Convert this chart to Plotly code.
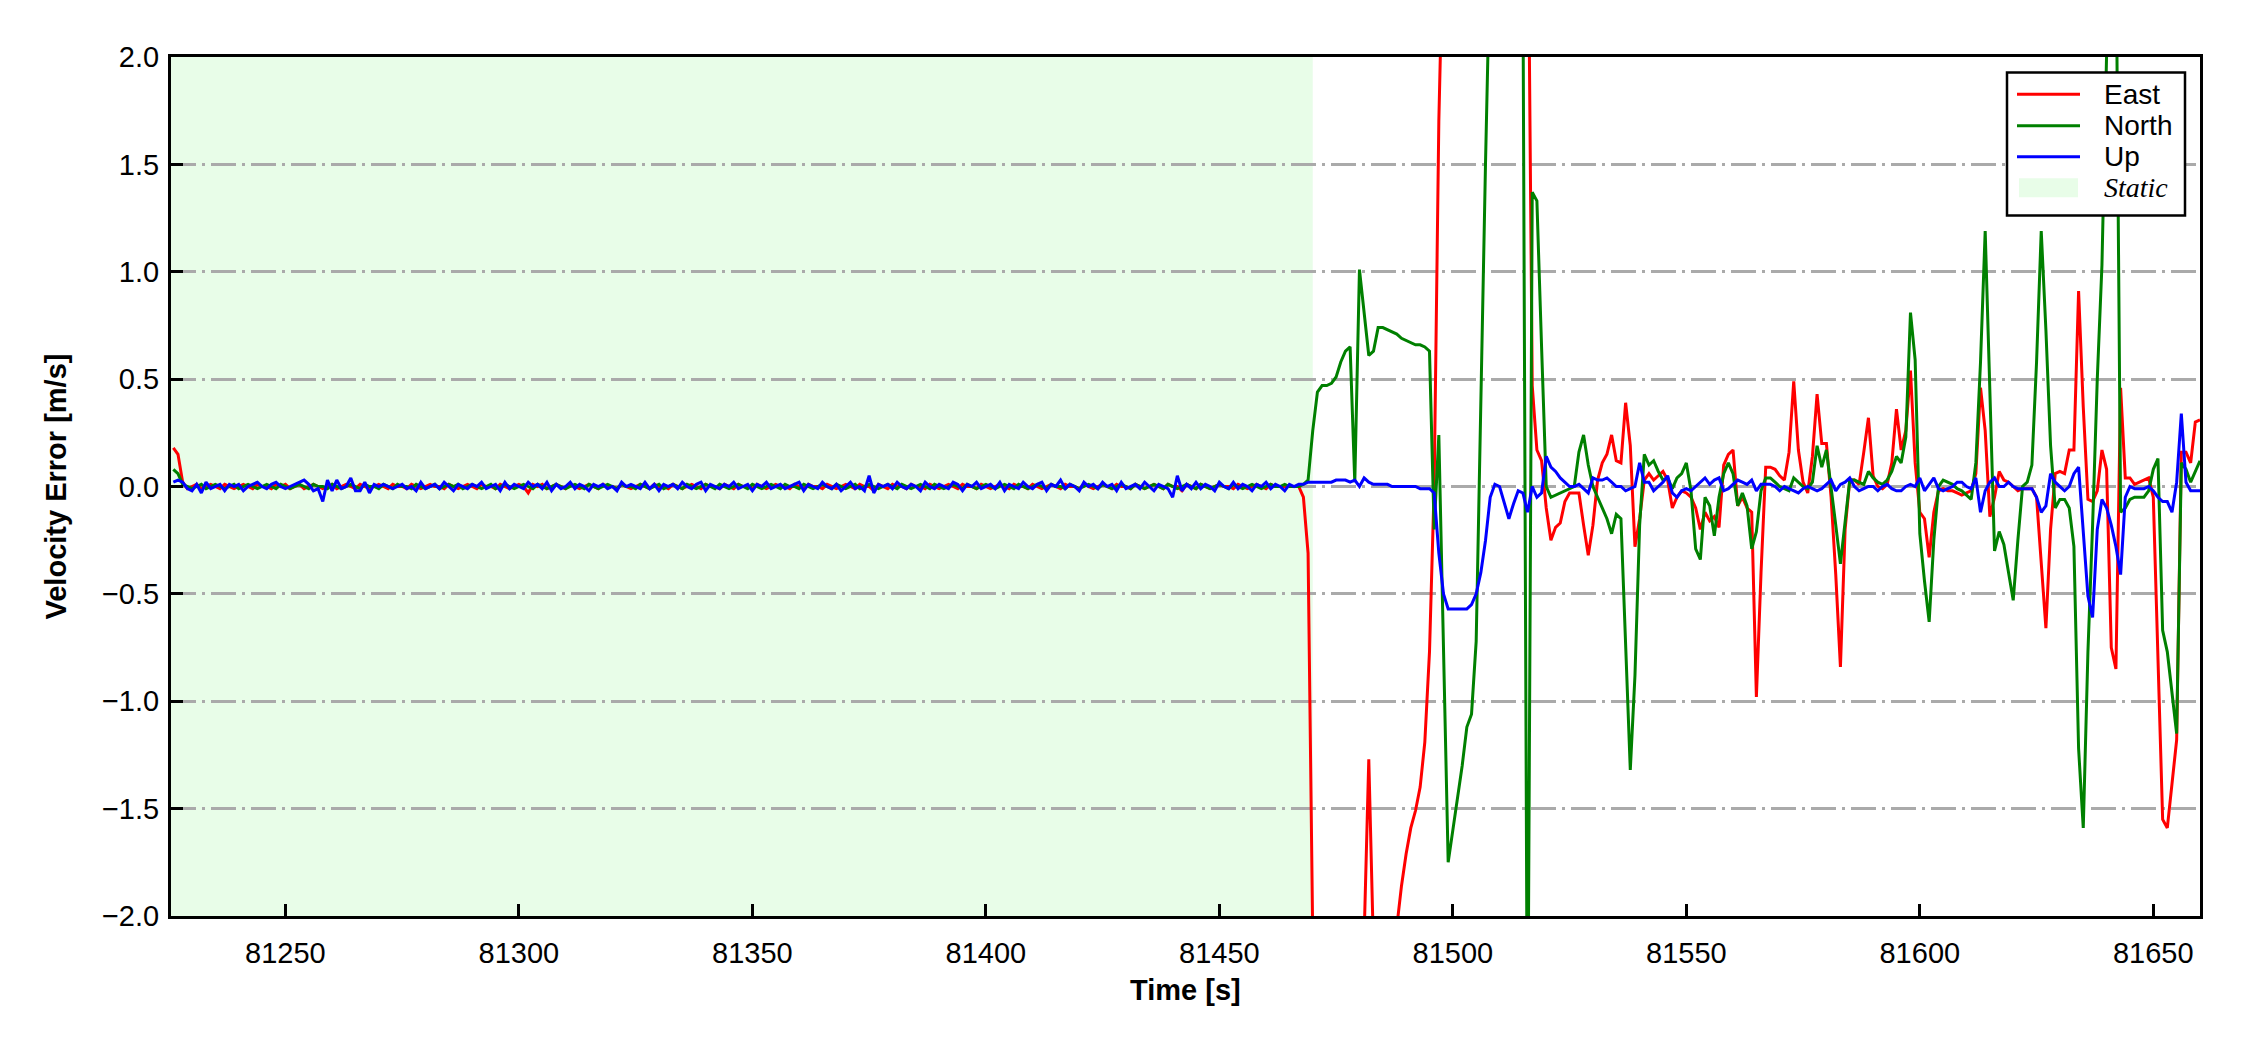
import plotly.graph_objects as go

# ---------------- data ----------------
TIME_START = 81226
TIME_END = 81660
TIME = list(range(TIME_START, TIME_END + 1))

X_RANGE = [81225.5, 81660]
Y_RANGE = [-2.0, 2.0]
STATIC_SPAN = [81225.5, 81470]

X_TICKS = [81250, 81300, 81350, 81400, 81450, 81500, 81550, 81600, 81650]
X_TICK_LABELS = ["81250", "81300", "81350", "81400", "81450", "81500", "81550", "81600", "81650"]
Y_TICKS = [-2.0, -1.5, -1.0, -0.5, 0.0, 0.5, 1.0, 1.5, 2.0]
Y_TICK_LABELS = ["\u22122.0", "\u22121.5", "\u22121.0", "\u22120.5", "0.0", "0.5", "1.0", "1.5", "2.0"]

EAST = [
    # static period 81226-81465
    0.18, 0.15, 0.02, -0.01, 0.0, 0.01, -0.01, 0.0, 0.01, 0.0, -0.01, 0.01, 0.0, -0.01, 0.0, 0.01, 0.0, -0.01, 0.01, 0.0,
    0.0, -0.01, 0.01, 0.0, 0.01, -0.01, 0.0, 0.01, -0.01, 0.0, 0.01, 0.0, -0.01, 0.0, 0.01, -0.01, 0.0, 0.01, 0.0, -0.01,
    0.01, 0.0, -0.01, 0.0, 0.01, 0.0, -0.01, 0.01, 0.0, 0.0, -0.01, 0.01, 0.0, -0.01, 0.0, 0.01, 0.0, 0.0, -0.01, 0.01,
    0.0, -0.01, 0.0, 0.01, 0.0, -0.01, 0.01, 0.0, 0.0, -0.01, 0.01, 0.0, -0.01, 0.0, 0.01, 0.0, -0.03, 0.01, 0.0, 0.01,
    -0.01, 0.0, 0.01, 0.0, -0.01, 0.01, 0.0, -0.01, 0.0, 0.01, 0.0, -0.01, 0.01, 0.0, 0.0, -0.01, 0.01, 0.0, -0.01, 0.0,
    0.01, 0.0, -0.01, 0.01, 0.0, 0.0, -0.01, 0.01, 0.0, -0.01, 0.0, 0.01, 0.0, -0.01, 0.01, 0.0, 0.0, -0.01, 0.01, 0.0,
    -0.01, 0.01, 0.0, 0.0, -0.01, 0.01, 0.0, -0.01, 0.0, 0.01, 0.0, 0.0, -0.01, 0.01, 0.0, -0.01, 0.01, 0.0, 0.0, -0.01,
    0.01, 0.0, -0.01, 0.0, 0.01, 0.0, -0.01, 0.01, 0.0, 0.0, -0.02, 0.01, 0.0, -0.01, 0.01, 0.0, 0.0, -0.01, 0.01, 0.0,
    0.0, -0.01, 0.01, 0.0, -0.01, 0.0, 0.01, 0.0, -0.01, 0.01, 0.0, 0.0, -0.01, 0.01, 0.0, -0.01, 0.0, 0.01, 0.0, -0.01,
    0.01, 0.0, 0.0, -0.01, 0.01, 0.0, -0.01, 0.0, 0.01, 0.0, -0.01, 0.01, 0.0, 0.0, -0.01, 0.01, 0.0, -0.01, 0.0, 0.01,
    0.0, -0.01, 0.01, 0.0, 0.0, -0.01, 0.01, 0.0, -0.01, 0.0, 0.01, 0.0, -0.01, 0.01, 0.0, 0.0, -0.02, 0.01, 0.0, -0.01,
    0.01, 0.0, -0.01, 0.0, 0.01, 0.0, 0.0, -0.01, 0.01, 0.0, -0.01, 0.0, 0.01, 0.0, -0.01, 0.01, 0.0, 0.0, 0.0, 0.0,
    # dynamic period 81466-81660
    0.0, 0.0, -0.05, -0.31, -2.1, -3.0, -3.6, -3.9, -4.1, -4.0,
    -3.8, -3.5, -3.2, -2.9, -2.6, -2.1, -1.27, -2.15, -2.4, -2.5,
    -2.4, -2.2, -2.05, -1.86, -1.71, -1.59, -1.51, -1.40, -1.19, -0.77,
    0.0, 1.7, 3.0, 3.6, 4.0, 4.3, 4.5, 4.4, 4.2, 4.0,
    3.7, 3.5, 3.3, 3.1, 3.0, 2.9, 2.8, 2.8, 2.9, 3.0,
    3.0, 0.47, 0.17, 0.12, -0.10, -0.25, -0.19, -0.17, -0.07, -0.03,
    -0.03, -0.03, -0.18, -0.32, -0.18, 0.03, 0.11, 0.15, 0.24, 0.12,
    0.11, 0.39, 0.19, -0.28, -0.15, 0.03, 0.06, 0.03, 0.05, 0.07,
    0.03, -0.10, -0.05, -0.02, -0.03, -0.05, -0.10, -0.20, -0.12, -0.16,
    -0.14, -0.19, 0.10, 0.15, 0.17, -0.09, -0.05, -0.10, -0.12, -0.98,
    -0.40, 0.09, 0.09, 0.08, 0.05, 0.03, 0.16, 0.49, 0.17, 0.02,
    -0.03, 0.14, 0.43, 0.20, 0.20, -0.05, -0.41, -0.84, -0.20, 0.03,
    0.03, 0.01, 0.16, 0.32, 0.05, 0.0, -0.01, 0.01, 0.11, 0.36,
    0.17, 0.26, 0.54, 0.11, -0.12, -0.15, -0.33, -0.12, -0.02, -0.01,
    -0.02, -0.02, -0.03, -0.04, -0.03, -0.02, 0.06, 0.46, 0.26, -0.14,
    -0.05, 0.07, 0.03, 0.02, 0.0, -0.02, -0.01, -0.01, -0.01, -0.05,
    -0.36, -0.66, -0.20, 0.06, 0.07, 0.06, 0.17, 0.17, 0.91, 0.37,
    -0.06, -0.07, -0.02, 0.17, 0.08, -0.75, -0.85, 0.46, 0.04, 0.04,
    0.01, 0.02, 0.03, 0.04, -0.05, -0.83, -1.55, -1.59, -1.37, -1.18,
    0.16, 0.16, 0.11, 0.30, 0.31,
]

NORTH = [
    # static period 81226-81465
    0.08, 0.06, 0.01, 0.0, -0.01, 0.0, 0.01, -0.01, 0.0, 0.01, 0.0, -0.01, 0.0, 0.01, -0.01, 0.0, 0.01, 0.0, -0.01, 0.0,
    0.01, 0.0, -0.01, 0.01, 0.0, -0.01, 0.0, 0.01, 0.0, -0.01, 0.01, 0.0, 0.0, -0.01, 0.01, 0.0, -0.01, 0.0, 0.01, 0.0,
    -0.01, 0.01, 0.0, 0.0, -0.01, 0.01, 0.0, -0.01, 0.01, 0.0, 0.0, -0.01, 0.01, 0.0, -0.01, 0.0, 0.01, -0.01, 0.0, 0.01,
    0.0, 0.01, -0.01, 0.0, 0.01, 0.0, -0.01, 0.0, 0.01, -0.01, 0.0, 0.01, 0.0, -0.01, 0.0, 0.01, 0.0, -0.01, 0.01, 0.0,
    -0.01, 0.0, 0.01, 0.0, -0.01, 0.0, 0.01, 0.0, -0.01, 0.01, 0.0, -0.01, 0.0, 0.01, 0.0, -0.01, 0.01, 0.0, 0.0, -0.01,
    0.01, 0.0, -0.01, 0.0, 0.01, -0.01, 0.0, 0.01, 0.0, -0.01, 0.01, 0.0, -0.01, 0.0, 0.01, 0.0, -0.01, 0.01, 0.0, -0.01,
    0.0, 0.01, 0.0, -0.01, 0.01, 0.0, -0.01, 0.0, 0.01, 0.0, -0.01, 0.01, 0.0, 0.0, -0.01, 0.01, 0.0, -0.01, 0.0, 0.01,
    0.0, -0.01, 0.01, 0.0, -0.01, 0.0, 0.01, -0.01, 0.0, 0.01, 0.0, -0.01, 0.0, 0.01, 0.0, -0.01, 0.01, 0.0, -0.01, 0.0,
    0.01, 0.0, -0.01, 0.01, 0.0, -0.01, 0.0, 0.01, 0.0, -0.01, 0.01, 0.0, -0.01, 0.0, 0.01, 0.0, -0.01, 0.0, 0.01, 0.0,
    -0.01, 0.01, 0.0, -0.01, 0.0, 0.01, 0.0, -0.01, 0.01, 0.0, 0.0, -0.01, 0.01, 0.0, -0.01, 0.0, 0.01, 0.0, -0.01, 0.01,
    0.0, -0.01, 0.0, 0.01, 0.0, -0.01, 0.01, 0.0, -0.01, 0.0, 0.01, 0.0, -0.01, 0.01, 0.0, -0.01, 0.0, 0.01, 0.0, -0.01,
    0.01, 0.0, -0.01, 0.0, 0.01, 0.0, -0.01, 0.01, 0.0, -0.01, 0.0, 0.01, 0.0, -0.01, 0.0, 0.01, 0.0, 0.0, 0.01, 0.0,
    # dynamic period 81466-81660
    0.0, 0.0, 0.01, 0.03, 0.26, 0.44, 0.47, 0.47, 0.48, 0.51,
    0.58, 0.63, 0.65, 0.02, 1.01, 0.80, 0.61, 0.63, 0.74, 0.74,
    0.73, 0.72, 0.71, 0.69, 0.68, 0.67, 0.66, 0.66, 0.65, 0.63,
    -0.20, 0.24, -0.75, -1.75, -1.60, -1.45, -1.30, -1.12, -1.06, -0.72,
    0.45, 1.51, 2.5, 3.0, 3.4, 3.6, 3.5, 3.2, 2.9, 2.4,
    -2.9, 1.37, 1.33, 0.65, 0.0, -0.05, -0.04, -0.03, -0.02, -0.01,
    0.0, 0.16, 0.24, 0.10, 0.0, -0.05, -0.10, -0.15, -0.22, -0.13,
    -0.15, -0.75, -1.32, -0.88, -0.18, 0.15, 0.10, 0.12, 0.07, 0.03,
    0.04, -0.01, 0.04, 0.06, 0.11, -0.02, -0.29, -0.34, -0.05, -0.09,
    -0.23, -0.05, 0.06, 0.11, 0.06, -0.09, -0.03, -0.09, -0.29, -0.21,
    -0.02, 0.04, 0.04, 0.02, 0.0, -0.01, -0.02, 0.04, 0.02, 0.0,
    -0.01, 0.02, 0.19, 0.09, 0.17, -0.02, -0.18, -0.36, -0.15, 0.03,
    0.03, 0.02, 0.01, 0.07, 0.04, 0.02, 0.01, 0.03, 0.07, 0.14,
    0.11, 0.23, 0.81, 0.59, -0.22, -0.44, -0.63, -0.25, 0.0, 0.03,
    0.02, 0.01, -0.01, -0.02, -0.04, -0.06, 0.11, 0.58, 1.19, 0.50,
    -0.30, -0.21, -0.27, -0.40, -0.53, -0.25, 0.0, 0.02, 0.10, 0.58,
    1.19, 0.73, 0.19, -0.10, -0.06, -0.06, -0.10, -0.28, -1.22, -1.59,
    -0.77, -0.18, 0.50, 1.03, 2.4, 3.0, 2.6, -0.12, -0.10, -0.06,
    -0.05, -0.05, -0.05, -0.02, 0.08, 0.13, -0.67, -0.77, -0.95, -1.15,
    0.11, 0.08, 0.02, 0.07, 0.12,
]

UP = [
    # static period 81226-81465
    0.02, 0.03, 0.02, -0.01, -0.02, 0.01, -0.03, 0.02, -0.01, 0.0, 0.01, -0.02, 0.01, 0.0, 0.01, -0.02, 0.0, 0.01, 0.02, 0.0,
    -0.01, 0.01, 0.02, 0.0, -0.01, 0.0, 0.01, 0.02, 0.03, 0.01, -0.02, -0.01, -0.07, 0.03, -0.02, 0.03, -0.01, 0.0, 0.04, -0.02,
    -0.02, 0.02, -0.03, 0.01, 0.0, 0.01, 0.0, -0.01, 0.0, 0.01, -0.01, 0.0, -0.02, 0.02, -0.01, 0.0, 0.01, -0.01, 0.02, 0.0,
    -0.02, 0.01, 0.0, -0.01, 0.01, 0.0, 0.02, -0.01, 0.0, 0.01, -0.02, 0.02, -0.01, 0.01, 0.0, -0.01, 0.02, 0.0, 0.01, -0.01,
    0.02, -0.02, 0.01, -0.01, 0.0, 0.02, -0.01, 0.01, 0.0, -0.02, 0.01, 0.0, 0.01, -0.01, 0.0, -0.02, 0.02, 0.0, 0.01, 0.0,
    -0.01, 0.02, -0.01, 0.01, -0.02, 0.01, 0.0, 0.01, -0.01, 0.02, 0.0, -0.01, 0.01, 0.02, -0.02, 0.01, 0.0, -0.01, 0.01, 0.0,
    0.02, -0.01, 0.0, 0.01, -0.02, 0.01, 0.0, 0.02, -0.01, 0.0, 0.01, -0.01, 0.0, 0.01, 0.02, -0.02, 0.01, 0.0, -0.01, 0.02,
    0.0, -0.01, 0.01, -0.02, 0.0, 0.02, -0.01, 0.0, -0.02, 0.05, -0.03, 0.01, 0.0, 0.01, -0.01, 0.02, 0.0, -0.01, 0.01, 0.0,
    -0.02, 0.02, 0.0, -0.01, 0.01, 0.0, -0.01, 0.02, 0.01, -0.02, 0.01, 0.0, 0.02, -0.01, 0.0, 0.01, -0.01, 0.02, -0.02, 0.01,
    0.0, -0.01, 0.02, 0.0, -0.01, 0.01, 0.02, -0.02, 0.01, 0.0, 0.03, -0.01, 0.01, 0.0, -0.02, 0.02, 0.0, 0.01, -0.01, 0.02,
    0.0, 0.01, -0.02, 0.02, -0.01, 0.0, 0.01, -0.01, 0.02, 0.0, -0.02, 0.01, 0.0, -0.01, -0.05, 0.05, -0.02, 0.01, -0.01, 0.02,
    -0.01, 0.01, 0.0, -0.02, 0.02, 0.0, -0.01, 0.02, -0.01, 0.01, 0.0, -0.02, 0.01, 0.0, 0.02, -0.01, 0.01, 0.0, -0.02, 0.01,
    # dynamic period 81466-81660
    0.0, 0.01, 0.01, 0.02, 0.02, 0.02, 0.02, 0.02, 0.02, 0.03,
    0.03, 0.03, 0.02, 0.03, 0.0, 0.04, 0.02, 0.01, 0.01, 0.01,
    0.01, 0.0, 0.0, 0.0, 0.0, 0.0, 0.0, -0.01, -0.01, -0.01,
    -0.03, -0.31, -0.50, -0.57, -0.57, -0.57, -0.57, -0.57, -0.55, -0.50,
    -0.40, -0.25, -0.05, 0.01, 0.0, -0.08, -0.15, -0.08, -0.02, -0.03,
    -0.12, 0.0, -0.05, -0.03, 0.14, 0.09, 0.07, 0.04, 0.02, 0.0,
    0.0, 0.01, -0.01, -0.03, 0.04, 0.03, 0.03, 0.04, 0.02, 0.0,
    0.0, -0.02, -0.01, 0.0, 0.11, 0.02, 0.02, -0.02, 0.0, 0.02,
    0.05, -0.03, -0.05, -0.02, -0.01, -0.02, 0.0, 0.02, 0.04, 0.01,
    0.03, 0.04, -0.02, -0.01, 0.01, 0.03, 0.02, 0.01, 0.03, -0.02,
    0.01, 0.01, 0.01, 0.0, -0.02, 0.0, -0.01, -0.02, -0.03, -0.01,
    0.0, -0.01, -0.02, -0.01, 0.01, 0.03, -0.02, 0.01, 0.02, 0.04,
    0.0, -0.02, -0.01, 0.0, 0.0, -0.02, 0.0, 0.01, -0.01, -0.02,
    -0.02, 0.0, 0.01, 0.0, 0.04, -0.02, 0.01, 0.04, -0.01, -0.02,
    -0.01, 0.0, 0.02, 0.02, 0.0, -0.01, 0.04, -0.12, -0.02, 0.02,
    0.04, 0.0, 0.0, 0.02, 0.0, -0.01, -0.01, -0.01, -0.01, -0.05,
    -0.12, -0.09, 0.06, 0.02, 0.0, -0.02, 0.0, 0.06, 0.09, -0.23,
    -0.51, -0.61, -0.20, -0.06, -0.10, -0.18, -0.28, -0.41, -0.05, 0.0,
    -0.01, -0.01, -0.01, 0.0, -0.02, -0.05, -0.07, -0.07, -0.12, 0.02,
    0.34, 0.02, -0.02, -0.02, -0.02,
]

SERIES_NAMES = ["East", "North", "Up"]
SERIES_COLORS = ["#ff0000", "#008000", "#0000ff"]
STATIC_LABEL = "Static"
STATIC_COLOR = "rgb(232,253,232)"

assert len(EAST) == len(TIME) and len(NORTH) == len(TIME) and len(UP) == len(TIME)

# ---------------- figure ----------------
FONT = "Liberation Sans, Arial, sans-serif"
SERIF = "Liberation Serif, Times New Roman, serif"

# page body has an 8px default margin; figure sized to fit 2250x1050 window
FIG_W, FIG_H = 2242, 1042
M_L, M_R, M_T, M_B = 163, 50, 49, 134
PLOT_W = FIG_W - M_L - M_R
PLOT_H = FIG_H - M_T - M_B


def px_x(px):  # pixel offset from plot-area left -> paper coords
    return px / PLOT_W


def px_y(px):  # pixel offset from plot-area top -> paper coords
    return 1 - px / PLOT_H


fig = go.Figure()
for name, vals, col in zip(SERIES_NAMES, [EAST, NORTH, UP], SERIES_COLORS):
    fig.add_trace(go.Scatter(
        x=TIME, y=vals, mode="lines", name=name,
        line=dict(color=col, width=3),
        showlegend=False,
    ))

fig.add_shape(
    type="rect", xref="x", yref="y",
    x0=STATIC_SPAN[0], x1=STATIC_SPAN[1], y0=Y_RANGE[0], y1=Y_RANGE[1],
    fillcolor=STATIC_COLOR, line=dict(width=0), layer="below",
)

# ---- legend box (custom, to match matplotlib proportions) ----
LEG_LEFT, LEG_RIGHT, LEG_TOP, LEG_BOTTOM = 1836, 2014, 15.5, 158.5
ROW_Y = [37.3, 68.7, 99.7, 130.8]
SAMPLE_X0, SAMPLE_X1, TEXT_X = 1846, 1909, 1931

fig.add_shape(type="rect", xref="paper", yref="paper",
              x0=px_x(LEG_LEFT), x1=px_x(LEG_RIGHT), y0=px_y(LEG_BOTTOM), y1=px_y(LEG_TOP),
              fillcolor="white", line=dict(color="black", width=2.5), layer="above")
annotations = []
for i, (name, col) in enumerate(zip(SERIES_NAMES, SERIES_COLORS)):
    fig.add_shape(type="line", xref="paper", yref="paper",
                  x0=px_x(SAMPLE_X0), x1=px_x(SAMPLE_X1), y0=px_y(ROW_Y[i]), y1=px_y(ROW_Y[i]),
                  line=dict(color=col, width=3), layer="above")
    annotations.append(dict(text=name, x=px_x(TEXT_X), y=px_y(ROW_Y[i]), xref="paper", yref="paper",
                            xanchor="left", yanchor="middle", showarrow=False,
                            font=dict(family=FONT, size=28, color="black")))
fig.add_shape(type="rect", xref="paper", yref="paper",
              x0=px_x(SAMPLE_X0 + 2), x1=px_x(SAMPLE_X1 - 2),
              y0=px_y(ROW_Y[3] + 9.5), y1=px_y(ROW_Y[3] - 9.5),
              fillcolor=STATIC_COLOR, line=dict(width=0), layer="above")
annotations.append(dict(text="<i>" + STATIC_LABEL + "</i>", x=px_x(TEXT_X), y=px_y(ROW_Y[3]),
                        xref="paper", yref="paper", xanchor="left", yanchor="middle",
                        showarrow=False, font=dict(family=SERIF, size=28, color="black")))

axis_common = dict(
    showline=True, linecolor="black", linewidth=3, mirror=True,
    ticks="inside", ticklen=12, tickwidth=2.5, tickcolor="black",
    tickfont=dict(family=FONT, size=29, color="black"),
    zeroline=False,
)

fig.update_xaxes(
    range=X_RANGE, tickvals=X_TICKS, ticktext=X_TICK_LABELS,
    showgrid=False, ticklabelstandoff=9, **axis_common,
)
fig.update_yaxes(
    range=Y_RANGE, tickvals=Y_TICKS, ticktext=Y_TICK_LABELS,
    showgrid=True, gridcolor="#aaaaaa", gridwidth=2.5,
    griddash="25px,6px,3px,6px", ticklabelstandoff=3, **axis_common,
)

annotations += [
    dict(text="<b>Time [s]</b>", x=0.5, y=0, xref="paper", yref="paper",
         xanchor="center", yanchor="middle", yshift=-74, showarrow=False,
         font=dict(family=FONT, size=29, color="black")),
    dict(text="<b>Velocity Error [m/s]</b>", x=0, y=0.5, xref="paper", yref="paper",
         xanchor="center", yanchor="middle", xshift=-116, textangle=-90, showarrow=False,
         font=dict(family=FONT, size=29, color="black")),
]

fig.update_layout(
    width=FIG_W, height=FIG_H,
    margin=dict(l=M_L, r=M_R, t=M_T, b=M_B, pad=0),
    plot_bgcolor="white", paper_bgcolor="white",
    font=dict(family=FONT, size=29, color="black"),
    showlegend=False,
    annotations=annotations,
)

fig.write_html("out.html")
